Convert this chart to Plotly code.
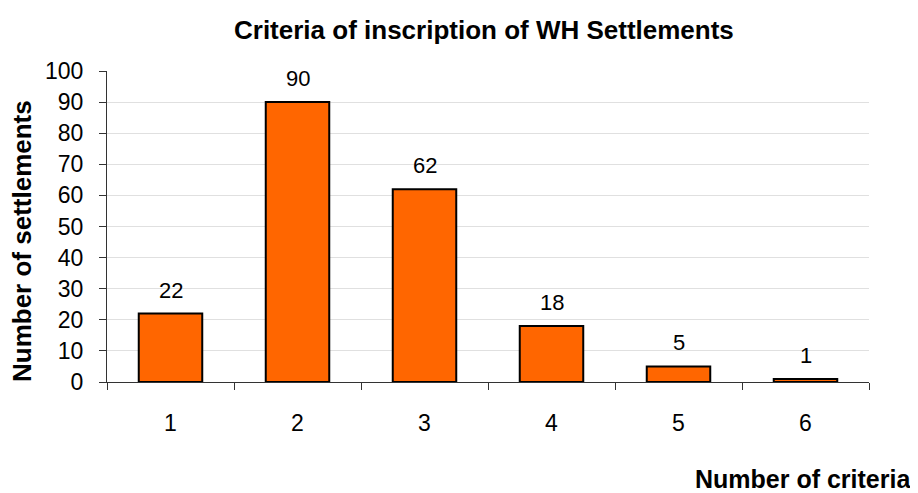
import plotly.graph_objects as go

categories = ["1", "2", "3", "4", "5", "6"]
settlements = [22, 90, 62, 18, 5, 1]
y_ticks = [0, 10, 20, 30, 40, 50, 60, 70, 80, 90, 100]

FONT = "Liberation Sans, Arial, sans-serif"
OFF = 8  # page body margin
W, H = 918 - OFF, 493 - OFF
L, R, T, B = 107 - OFF, 869 - OFF, 71 - OFF, 382 - OFF  # plot area in pixels


def px(xp):
    return (xp - OFF - L) / (R - L)


def py(yp):
    return (B - (yp - OFF)) / (B - T)


fig = go.Figure()
fig.add_trace(go.Bar(
    x=categories, y=settlements, width=0.5,
    marker=dict(color="#FF6600", line=dict(color="black", width=2)),
    showlegend=False,
))

for i, v in enumerate(settlements):
    fig.add_annotation(x=i, y=v, text=str(v), showarrow=False, xref="x", yref="y",
                       yanchor="bottom", yshift=9, font=dict(family=FONT, size=22, color="black"))

fig.add_annotation(text="<b>Criteria of inscription of WH Settlements</b>",
                   xref="paper", yref="paper", x=px(484), y=py(30),
                   xanchor="center", yanchor="middle", showarrow=False,
                   font=dict(family=FONT, size=26, color="black"))

fig.add_annotation(text="<b>Number of settlements</b>", textangle=-90,
                   xref="paper", yref="paper", x=px(22), y=py(241),
                   xanchor="center", yanchor="middle", showarrow=False,
                   font=dict(family=FONT, size=26, color="black"))

fig.add_annotation(text="<b>Number of criteria</b>",
                   xref="paper", yref="paper", x=px(913), y=py(479),
                   xanchor="right", yanchor="middle", showarrow=False,
                   font=dict(family=FONT, size=25, color="black"))

fig.update_layout(
    width=W, height=H,
    margin=dict(l=L, r=W - R, t=T, b=H - B, autoexpand=False),
    paper_bgcolor="white", plot_bgcolor="white",
    font=dict(family=FONT, size=23, color="black"),
)
fig.update_xaxes(type="category", range=[-0.5, 5.5], tickson="boundaries",
                 ticks="outside", ticklen=7, automargin=False,
                 tickcolor="#333333", showline=True, linecolor="#333333", linewidth=1,
                 showgrid=False, tickfont=dict(size=23), ticklabelstandoff=20)
fig.update_yaxes(range=[0, 100], tickvals=y_ticks, ticks="outside", ticklen=7,
                 automargin=False,
                 tickcolor="#333333", showline=True, linecolor="#333333", linewidth=1,
                 showgrid=True, gridcolor="#E0E0E0", gridwidth=1, zeroline=False,
                 tickfont=dict(size=23), ticklabelstandoff=11)

fig.write_html("out.html")
